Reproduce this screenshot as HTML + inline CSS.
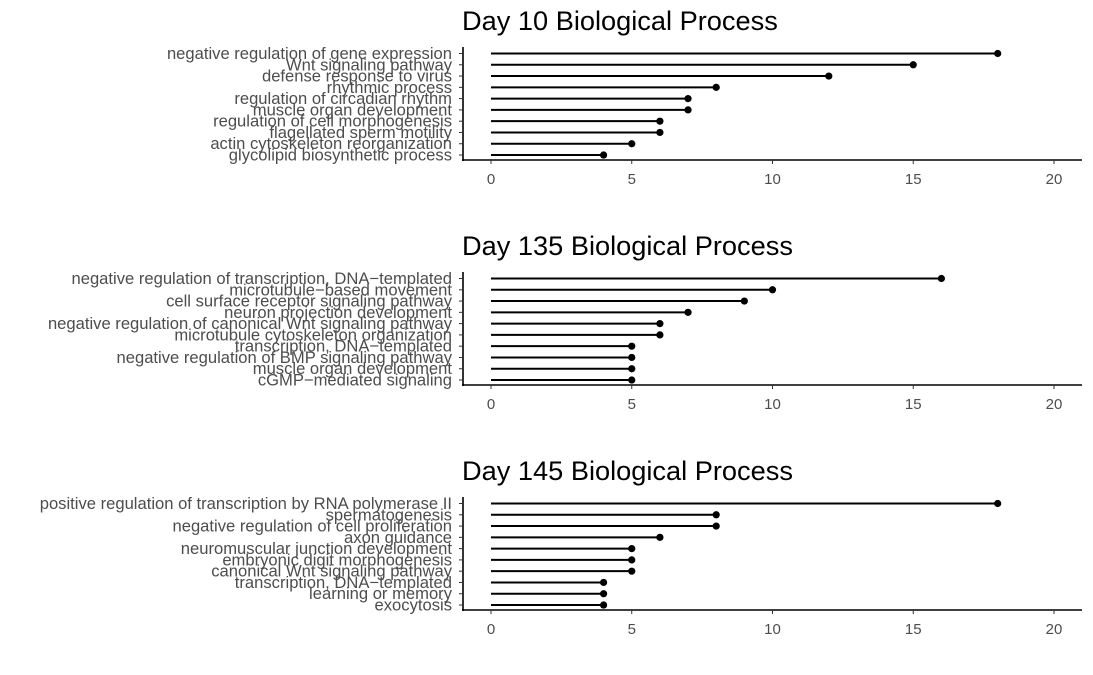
<!DOCTYPE html>
<html><head><meta charset="utf-8"><style>
body{margin:0;background:#fff;}
svg{display:block;font-family:"Liberation Sans",Arial,sans-serif;}
</style></head><body>
<svg id="c" width="1093" height="675"></svg>
<script>
const titles=["Day 10 Biological Process","Day 135 Biological Process","Day 145 Biological Process"];
const cats1=["negative regulation of gene expression","Wnt signaling pathway","defense response to virus","rhythmic process","regulation of circadian rhythm","muscle organ development","regulation of cell morphogenesis","flagellated sperm motility","actin cytoskeleton reorganization","glycolipid biosynthetic process"];
const vals1=[18,15,12,8,7,7,6,6,5,4];
const cats2=["negative regulation of transcription, DNA\u2212templated","microtubule\u2212based movement","cell surface receptor signaling pathway","neuron projection development","negative regulation of canonical Wnt signaling pathway","microtubule cytoskeleton organization","transcription, DNA\u2212templated","negative regulation of BMP signaling pathway","muscle organ development","cGMP\u2212mediated signaling"];
const vals2=[16,10,9,7,6,6,5,5,5,5];
const cats3=["positive regulation of transcription by RNA polymerase II","spermatogenesis","negative regulation of cell proliferation","axon guidance","neuromuscular junction development","embryonic digit morphogenesis","canonical Wnt signaling pathway","transcription, DNA\u2212templated","learning or memory","exocytosis"];
const vals3=[18,8,8,6,5,5,5,4,4,4];
const xTicks=[0,5,10,15,20];
const panels=[[cats1,vals1],[cats2,vals2],[cats3,vals3]];
const svg=document.getElementById('c');
const NS='http://www.w3.org/2000/svg';
function mk(t,a,p){const e=document.createElementNS(NS,t);for(const k in a)e.setAttribute(k,a[k]);p.appendChild(e);return e;}
const x=v=>491+v*28.15;
panels.forEach(([cats,vals],pi)=>{
  const off=pi*225;
  const g=mk('g',{},svg);
  
  
  const y=i=>53.5+off+i*11.28;
  const t=mk('text',{x:462,y:30+off,'font-size':27.2,fill:'#000'},g);
  t.textContent=titles[pi];
  
  
  const ya=mk('line',{x1:463,x2:463,y1:47+off,y2:161+off,stroke:'#000','stroke-width':1.6},g);
  
  
  const xa=mk('line',{x1:462,x2:1082,y1:160+off,y2:160+off,stroke:'#000','stroke-width':1.6},g);
  
  
  xTicks.forEach(v=>{
    mk('line',{x1:x(v),x2:x(v),y1:160+off,y2:164+off,stroke:'#333','stroke-width':1},g);
    const l=mk('text',{x:x(v),y:184+off,'font-size':15,fill:'#4d4d4d','text-anchor':'middle'},g);
    l.textContent=v;
    
    
  });
  cats.forEach((c,i)=>{
    const yy=y(i);
    mk('line',{x1:459,x2:463,y1:yy,y2:yy,stroke:'#333','stroke-width':1},g);
    const l=mk('text',{x:452,y:yy+5.5,'font-size':16.6,fill:'#4d4d4d','text-anchor':'end'},g);
    l.textContent=c;
    
    
    const s=mk('line',{x1:x(0),x2:x(vals[i]),y1:yy,y2:yy,stroke:'#000','stroke-width':2},g);
    
    
    const d=mk('circle',{cx:x(vals[i]),cy:yy,r:3.6,fill:'#000'},g);
    
    
  });
});
</script>
</body></html>
